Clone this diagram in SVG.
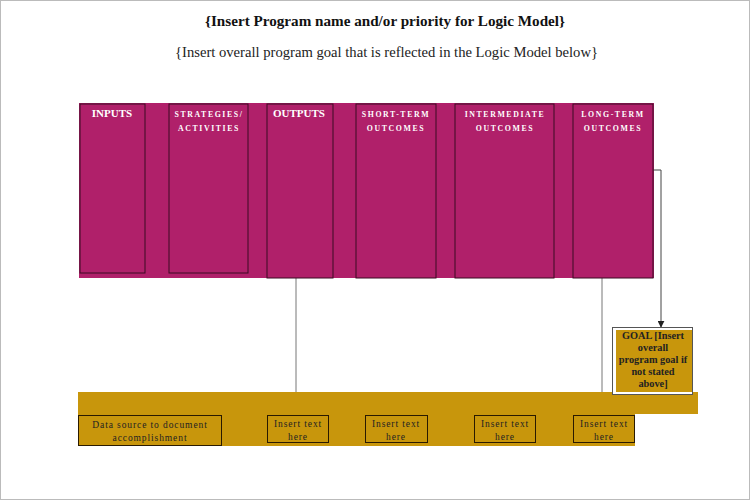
<svg xmlns="http://www.w3.org/2000/svg" width="750" height="500" viewBox="0 0 750 500">
<defs>
<marker id="arr" viewBox="0 0 10 10" refX="9" refY="5" markerWidth="7" markerHeight="7" markerUnits="userSpaceOnUse" orient="auto"><path d="M0,0 L10,5 L0,10 z" fill="#222"/></marker>
<style>
.col{fill:#B0206A;stroke:#3a0a22;stroke-width:1}
.hd{font-family:"Liberation Serif",serif;font-weight:bold;fill:#fff;text-anchor:middle}
.sm{font-size:7.8px;letter-spacing:1.6px}
.bx{fill:#C8960C;stroke:#2a1a00;stroke-width:1}
.bt{font-family:"Liberation Serif",serif;font-size:9.5px;fill:#222;text-anchor:middle;letter-spacing:0.9px}
.ln{stroke:#777;stroke-width:1;fill:none}
</style>
</defs>
<rect x="0.5" y="0.5" width="749" height="499" fill="#fff" stroke="#bbb"/>
<text x="385" y="26" font-family="Liberation Serif,serif" font-size="15" font-weight="bold" text-anchor="middle" fill="#111" textLength="360" lengthAdjust="spacingAndGlyphs">{Insert Program name and/or priority for Logic Model}</text>
<text x="386.5" y="57" font-family="Liberation Serif,serif" font-size="14.5" text-anchor="middle" fill="#222" textLength="423" lengthAdjust="spacingAndGlyphs">{Insert overall program goal that is reflected in the Logic Model below}</text>

<rect x="79" y="103" width="575" height="175" fill="#B0206A"/>
<path d="M78,392 H698 V414 H635 V446 H78 Z" fill="#C8960C"/>

<g id="connectors">
<line class="ln" x1="296" y1="278" x2="296" y2="392"/>
<line class="ln" x1="602" y1="278" x2="602" y2="392"/>
<path d="M653,170 H661 V327" stroke="#444" stroke-width="1" fill="none" marker-end="url(#arr)"/>
</g>

<g id="inputs"><rect class="col" x="80" y="104" width="65" height="169"/><text class="hd" x="112" y="117" font-size="11">INPUTS</text></g>
<g id="strategies"><rect class="col" x="169" y="104" width="79" height="169"/><text class="hd sm" x="209" y="117">STRATEGIES/</text><text class="hd sm" x="209" y="131">ACTIVITIES</text></g>
<g id="outputs"><rect class="col" x="267" y="104" width="66" height="174"/><text class="hd" x="299" y="117" font-size="11">OUTPUTS</text></g>
<g id="short"><rect class="col" x="356" y="104" width="80" height="174"/><text class="hd sm" x="396" y="117">SHORT-TERM</text><text class="hd sm" x="396" y="131">OUTCOMES</text></g>
<g id="intermediate"><rect class="col" x="455" y="104" width="99" height="174"/><text class="hd sm" x="505" y="117">INTERMEDIATE</text><text class="hd sm" x="505" y="131">OUTCOMES</text></g>
<g id="long"><rect class="col" x="573" y="104" width="80" height="174"/><text class="hd sm" x="613" y="117">LONG-TERM</text><text class="hd sm" x="613" y="131">OUTCOMES</text></g>

<g id="goal">
<rect x="612.5" y="327.5" width="80" height="67" fill="#fff" stroke="#555"/>
<rect x="616" y="330" width="76" height="62" fill="#C8960C"/>
<g font-family="Liberation Serif,serif" font-size="10.3" font-weight="bold" fill="#222" text-anchor="middle">
<text x="653" y="339">GOAL [Insert</text>
<text x="653" y="351">overall</text>
<text x="653" y="363">program goal if</text>
<text x="653" y="375">not stated</text>
<text x="653" y="387">above]</text>
</g>
</g>

<g id="datasource"><rect class="bx" x="78.5" y="415.5" width="143" height="30"/><text class="bt" x="150" y="428">Data source to document</text><text class="bt" x="150" y="441">accomplishment</text></g>
<g id="t1"><rect class="bx" x="267.5" y="415.5" width="61" height="27"/><text class="bt" x="298" y="427">Insert text</text><text class="bt" x="298" y="440">here</text></g>
<g id="t2"><rect class="bx" x="365.5" y="415.5" width="62" height="27"/><text class="bt" x="396" y="427">Insert text</text><text class="bt" x="396" y="440">here</text></g>
<g id="t3"><rect class="bx" x="474.5" y="415.5" width="61" height="27"/><text class="bt" x="505" y="427">Insert text</text><text class="bt" x="505" y="440">here</text></g>
<g id="t4"><rect class="bx" x="573.5" y="415.5" width="61" height="27"/><text class="bt" x="604" y="427">Insert text</text><text class="bt" x="604" y="440">here</text></g>
</svg>
